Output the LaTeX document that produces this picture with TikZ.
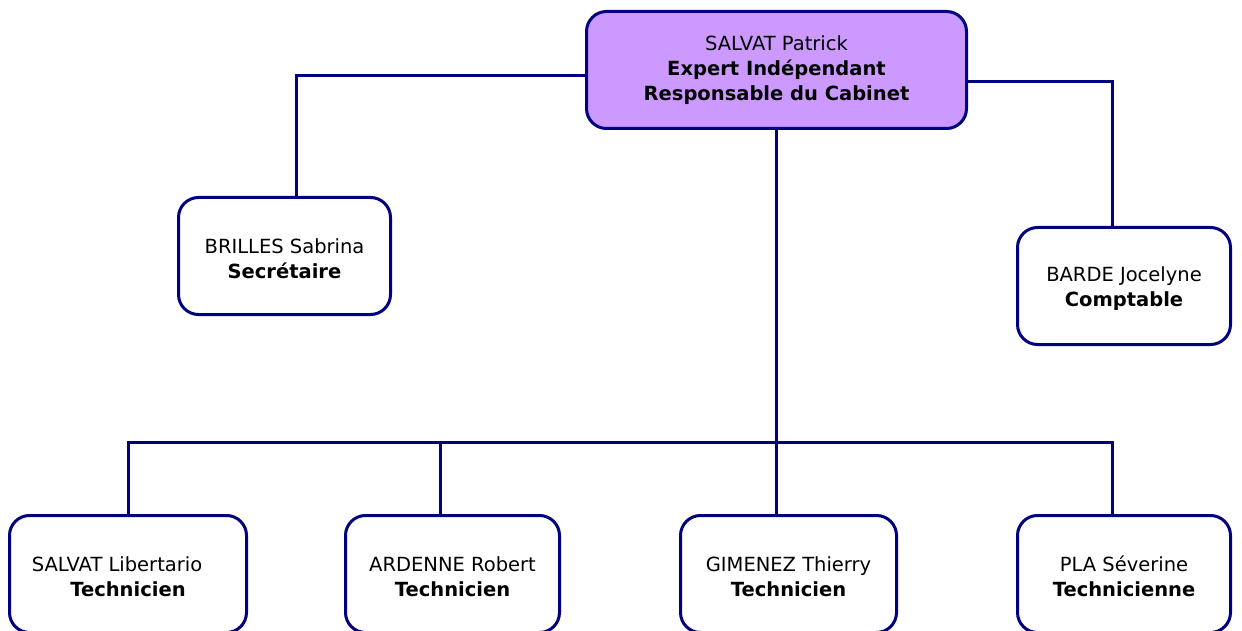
\documentclass[tikz,border=0pt]{standalone}
\usepackage{fontspec}
\setmainfont{DejaVu Sans}
\definecolor{navy}{RGB}{0,0,128}
\definecolor{lavender}{RGB}{204,153,255}
\newcommand{\lowstrut}{\rule{0pt}{20pt}}
\begin{document}
\begin{tikzpicture}[x=1pt,y=-1pt,
  box/.style={draw=navy, line width=3pt, rounded corners=20pt, fill=white,
    minimum height=117pt, align=center, inner sep=0pt,
    font=\fontsize{19.5}{25}\selectfont},
  link/.style={draw=navy, line width=3pt}]
\clip (0,0) rectangle (1242,631);
\fill[white] (0,0) rectangle (1242,631);
% nodes
\node[box, fill=lavender, minimum width=380pt] (top) at (776.5,70)
  {SALVAT Patrick\\\textbf{Expert Indépendant}\\\textbf{Responsable du Cabinet}};
\node[box, minimum width=212pt] (sec) at (284.5,256)
  {\lowstrut BRILLES Sabrina\\\textbf{Secrétaire}};
\node[box, minimum width=213pt] (cpt) at (1124,286)
  {\lowstrut BARDE Jocelyne\\\textbf{Comptable}};
\node[box, minimum width=237pt] (b1) at (128,574)
  {\lowstrut SALVAT Libertario\hspace*{22pt}\\\textbf{Technicien}};
\node[box, minimum width=214pt] (b2) at (452.5,574)
  {\lowstrut ARDENNE Robert\\\textbf{Technicien}};
\node[box, minimum width=216pt] (b3) at (788.5,574)
  {\lowstrut GIMENEZ Thierry\\\textbf{Technicien}};
\node[box, minimum width=213pt] (b4) at (1124,574)
  {\lowstrut PLA Séverine\\\textbf{Technicienne}};
\coordinate (bus) at (776,442);
% connectors
\draw[link] ([yshift=-6pt]top.west) -| ([xshift=11.5pt]sec.north);
\draw[link] ([yshift=-12pt]top.east) -| ([xshift=-12pt]cpt.north);
\draw[link] ([xshift=-0.5pt]top.south) -- ([xshift=-0.5pt]top.south |- b3.north);
\draw[link] (b1.north) |- (bus);
\draw[link] ([xshift=-12.5pt]b2.north) -- ([xshift=-12.5pt]b2.north |- bus);
\draw[link] ([xshift=-12pt]b4.north) |- (bus);
\end{tikzpicture}
\end{document}
